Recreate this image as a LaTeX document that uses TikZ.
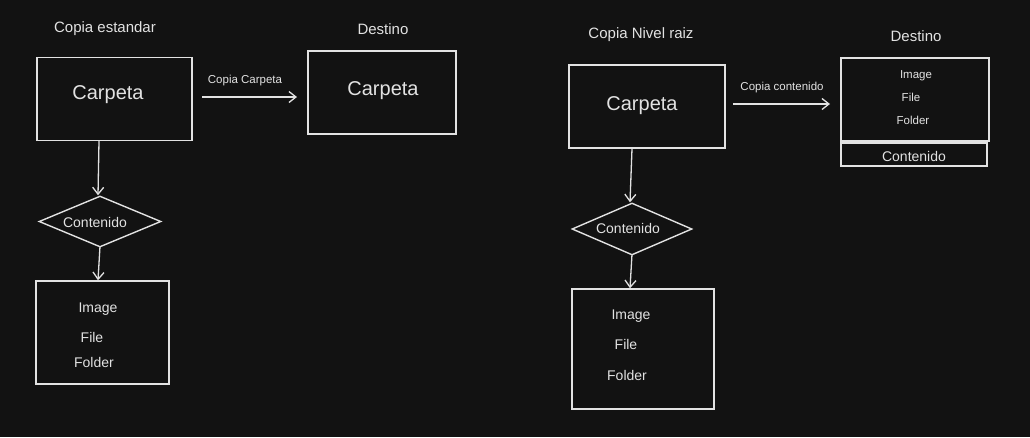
\documentclass[tikz,border=0pt]{standalone}
\usepackage{fontspec}
\setmainfont{Liberation Sans}
\usetikzlibrary{shapes.geometric,arrows.meta}
\definecolor{bg}{HTML}{121212}
\definecolor{ink}{HTML}{E2E2E2}
\tikzset{
  box/.style={draw=ink, line width=1.4pt, rectangle, inner sep=0pt},
  dia/.style={draw=ink, line width=1.4pt, diamond, aspect=2.4, inner sep=0pt},
  txt/.style={text=ink, inner sep=0pt, anchor=center},
  conn/.style={draw=ink, line width=1.3pt, -{Straight Barb[length=7pt,width=11pt]}},
}
\newcommand{\fs}[1]{\fontsize{#1}{#1}\selectfont}
\begin{document}
\begin{tikzpicture}[x=1pt,y=-1pt]
\fill[bg] (0,0) rectangle (1030,437);
\useasboundingbox (0,0) rectangle (1030,437);
% ---- left panel
\node[txt] (t1) at (105,29) {\fs{15}Copia estandar};
\node[txt] (t2) at (383,29) {\fs{15}Destino};
\node[box, minimum width=155pt, minimum height=83pt] (b1) at (114.5,99) {};
\node[txt] at (108,95) {\fs{20}Carpeta};
\node[box, minimum width=148pt, minimum height=83pt] (b2) at (382,92.5) {};
\node[txt] at (383,91) {\fs{20}Carpeta};
\coordinate (a1s) at (202,97);
\coordinate (a1e) at (297,97);
\draw[conn] (a1s) -- (a1e);
\node[txt] (l1) at (245,81) {\fs{11.5}Copia Carpeta};
\node[dia, minimum width=122pt, minimum height=51pt] (d1) at (100,221.5) {};
\node[txt] at (95,222) {\fs{14}Contenido};
\draw[conn] (b1.south -| 99,0) -- (d1.north -| 98,0);
\node[box, minimum width=133pt, minimum height=103pt] (b3) at (102.5,332.5) {};
\node[txt] at (98,309) {\fs{14}Image};
\node[txt] at (92,337) {\fs{14}File};
\node[txt] at (94,362) {\fs{14}Folder};
\draw[conn] ([yshift=1.5pt]d1.south) -- (b3.north -| 98,0);
% ---- right panel
\node[txt] (t3) at (641,35) {\fs{15}Copia Nivel raiz};
\node[txt] (t4) at (916,36) {\fs{15}Destino};
\node[box, minimum width=156pt, minimum height=83pt] (b4) at (647,106.5) {};
\node[txt] at (642,106) {\fs{20}Carpeta};
\coordinate (a2s) at (733,104);
\coordinate (a2e) at (830,104);
\draw[conn] (a2s) -- (a2e);
\node[txt] (l2) at (782,88) {\fs{11.5}Copia contenido};
\node[box, minimum width=148pt, minimum height=83pt] (b5) at (915,99.5) {};
\node[txt] at (916,76) {\fs{11.5}Image};
\node[txt] at (911,97) {\fs{11.5}File};
\node[txt] at (913,120) {\fs{11.5}Folder};
\node[box, minimum width=146pt, minimum height=23pt] (b6) at (914,154.5) {};
\node[txt] at (914,156) {\fs{14}Contenido};
\node[dia, minimum width=120pt, minimum height=52pt] (d2) at (632,229) {};
\node[txt] at (628,228) {\fs{14}Contenido};
\draw[conn] (b4.south -| 632,0) -- (d2.north -| 630,0);
\node[box, minimum width=142pt, minimum height=120pt] (b7) at (643,349) {};
\node[txt] at (631,316) {\fs{14}Image};
\node[txt] at (626,344) {\fs{14}File};
\node[txt] at (627,375) {\fs{14}Folder};
\draw[conn] ([yshift=1.5pt]d2.south) -- (b7.north -| 630,0);
\end{tikzpicture}
\end{document}
